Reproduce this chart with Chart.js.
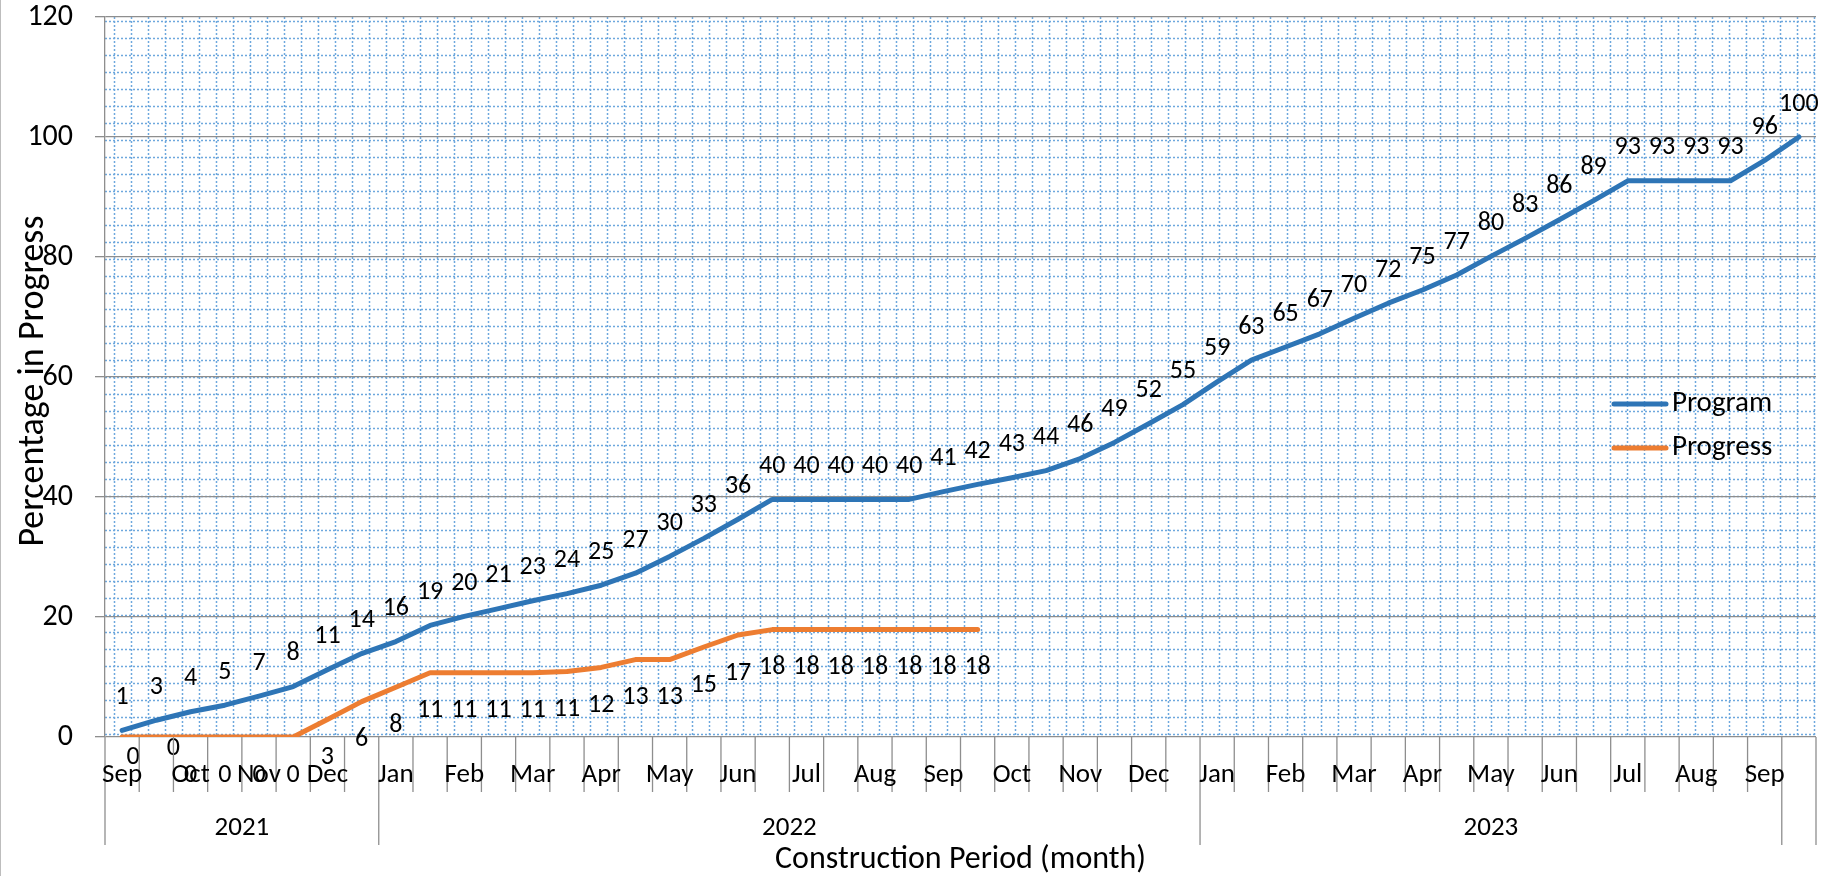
<!DOCTYPE html>
<html>
<head>
<meta charset="utf-8">
<script src="https://cdn.jsdelivr.net/npm/chart.js@4.4.1/dist/chart.umd.min.js"></script>
<style>
  html, body { margin: 0; padding: 0; background: #fff; }
  #wrap { width: 1830px; height: 876px; }
</style>
</head>
<body>
<div id="wrap"><canvas id="progressChart" width="1830" height="876"></canvas></div>
<script>
// two points per month, label only on the first one
const monthLabels = [
  'Sep', '', 'Oct', '', 'Nov', '', 'Dec', '',
  'Jan', '', 'Feb', '', 'Mar', '', 'Apr', '', 'May', '', 'Jun', '',
  'Jul', '', 'Aug', '', 'Sep', '', 'Oct', '', 'Nov', '', 'Dec', '',
  'Jan', '', 'Feb', '', 'Mar', '', 'Apr', '', 'May', '', 'Jun', '',
  'Jul', '', 'Aug', '', 'Sep', ''
];
const yearNames = ['2021', '2022', '2023'];
const yearSpans = [8, 24, 17];   // number of categories under each year

const programValues = [
  1.1, 2.8, 4.2, 5.3, 6.8, 8.4, 11.2, 13.9, 15.9, 18.6,
  20.1, 21.4, 22.7, 23.9, 25.3, 27.3, 30.1, 33.1, 36.3, 39.6,
  39.6, 39.6, 39.6, 39.6, 40.9, 42.1, 43.2, 44.4, 46.4, 49.1,
  52.2, 55.4, 59.2, 62.8, 65.0, 67.2, 69.8, 72.3, 74.5, 77.0,
  80.1, 83.1, 86.2, 89.4, 92.7, 92.7, 92.7, 92.7, 96.1, 100
];
const progressValues = [
  0, 0, 0, 0, 0, 0, 2.9, 5.9, 8.3, 10.7,
  10.7, 10.7, 10.7, 10.9, 11.6, 12.9, 12.9, 15.0, 17.0, 17.9,
  17.9, 17.9, 17.9, 17.9, 17.9, 17.9
];
const seriesNames = ['Program', 'Progress'];

const FONT = "Carlito, Lato, 'Liberation Sans', sans-serif";
const GRAY = '#8e8e8e';
const BLUE = '#2e75b6';
const ORANGE = '#ed7d31';

const excelLook = {
  id: 'excelLook',
  beforeDraw(chart) {
    // dotted "small grid" pattern fill of the plot area
    const ctx = chart.ctx;
    const a = chart.chartArea;
    ctx.save();
    ctx.beginPath();
    ctx.rect(a.left, a.top, a.right - a.left, a.bottom - a.top);
    ctx.clip();
    ctx.strokeStyle = '#6ea8dd';
    ctx.lineWidth = 1.5;
    ctx.setLineDash([2, 2]);
    for (let x = a.left + 8.5; x < a.right; x += 17.01) {
      ctx.beginPath();
      ctx.moveTo(Math.round(x) + 0.5, a.top);
      ctx.lineTo(Math.round(x) + 0.5, a.bottom);
      ctx.stroke();
    }
    for (let y = a.bottom - 3; y > a.top; y -= 16.98) {
      ctx.beginPath();
      ctx.moveTo(a.left, Math.round(y) + 0.5);
      ctx.lineTo(a.right, Math.round(y) + 0.5);
      ctx.stroke();
    }
    ctx.restore();
  },
  afterDatasetsDraw(chart) {
    const ctx = chart.ctx;
    ctx.save();
    ctx.fillStyle = '#000';
    ctx.font = `26px ${FONT}`;
    ctx.textAlign = 'center';
    ctx.textBaseline = 'middle';
    // data labels: program above, progress below
    chart.getDatasetMeta(0).data.forEach((pt, i) => {
      ctx.fillText(String(Math.round(programValues[i])), pt.x, pt.y - 33);
    });
    const nudge = { 0: [11, -18], 1: [17, -27] };  // labels moved by hand in the original
    chart.getDatasetMeta(1).data.forEach((pt, i) => {
      const d = nudge[i] || [0, 0];
      ctx.fillText(String(Math.round(progressValues[i])), pt.x + d[0], pt.y + 38 + d[1]);
    });
    ctx.restore();
  },
  afterDraw(chart) {
    const ctx = chart.ctx;
    const a = chart.chartArea;
    const xs = chart.scales.x;
    const n = monthLabels.length;
    const step = xs.getPixelForValue(1) - xs.getPixelForValue(0);
    const base = a.bottom;
    ctx.save();

    // frame line on the left of the chart
    ctx.strokeStyle = '#bdbdbd';
    ctx.lineWidth = 1;
    ctx.beginPath();
    ctx.moveTo(0.5, 0);
    ctx.lineTo(0.5, chart.height);
    ctx.stroke();

    // category separators, longer at year boundaries
    const edges = new Set([0, n]);
    let acc = 0;
    yearSpans.forEach(s => { acc += s; edges.add(acc); });
    ctx.strokeStyle = GRAY;
    ctx.lineWidth = 1.3;
    for (let i = 0; i <= n; i++) {
      const x = xs.getPixelForValue(0) - step / 2 + i * step;
      ctx.beginPath();
      ctx.moveTo(x, base);
      ctx.lineTo(x, base + (edges.has(i) ? 108 : 55));
      ctx.stroke();
    }

    ctx.fillStyle = '#000';
    ctx.textAlign = 'center';
    ctx.textBaseline = 'middle';
    ctx.font = `27px ${FONT}`;
    monthLabels.forEach((m, i) => {
      if (m) ctx.fillText(m, xs.getPixelForValue(i), base + 38);
    });
    let start = 0;
    yearNames.forEach((yr, k) => {
      const mid = (xs.getPixelForValue(start) + xs.getPixelForValue(start + yearSpans[k] - 1)) / 2;
      ctx.fillText(yr, mid, base + 91);
      start += yearSpans[k];
    });

    // axis titles
    ctx.font = `32px ${FONT}`;
    ctx.fillText('Construction Period (month)', (a.left + a.right) / 2, 860);
    ctx.save();
    ctx.translate(34, (a.top + a.bottom) / 2 + 4);
    ctx.rotate(-Math.PI / 2);
    ctx.font = `36px ${FONT}`;
    ctx.fillText('Percentage in Progress', 0, 0);
    ctx.restore();

    // legend inside the plot
    ctx.font = `29px ${FONT}`;
    ctx.textAlign = 'left';
    [[seriesNames[0], BLUE, 404], [seriesNames[1], ORANGE, 448]].forEach(([name, col, y]) => {
      ctx.strokeStyle = col;
      ctx.lineWidth = 5;
      ctx.lineCap = 'round';
      ctx.beginPath();
      ctx.moveTo(1614, y);
      ctx.lineTo(1666, y);
      ctx.stroke();
      ctx.fillText(name, 1672, y);
    });
    ctx.restore();
  }
};

new Chart(document.getElementById('progressChart'), {
  type: 'line',
  data: {
    labels: monthLabels,
    datasets: [
      {
        label: seriesNames[0],
        data: programValues,
        borderColor: BLUE,
        borderWidth: 5,
        pointRadius: 0,
        borderCapStyle: 'round',
        borderJoinStyle: 'round',
        tension: 0,
        fill: false,
        order: 1
      },
      {
        label: seriesNames[1],
        data: progressValues,
        borderColor: ORANGE,
        borderWidth: 5,
        pointRadius: 0,
        borderCapStyle: 'round',
        borderJoinStyle: 'round',
        tension: 0,
        fill: false,
        order: 0
      }
    ]
  },
  options: {
    responsive: false,
    animation: false,
    layout: { padding: { top: 17, right: 14, left: 0, bottom: 0 } },
    plugins: {
      legend: { display: false },
      tooltip: { enabled: false }
    },
    scales: {
      x: {
        type: 'category',
        offset: true,
        grid: { display: false },
        ticks: { display: false },
        border: { display: false },
        afterFit: s => { s.height = 139; s.paddingLeft = 0; s.paddingRight = 0; }
      },
      y: {
        min: 0,
        max: 120,
        ticks: {
          stepSize: 20,
          color: '#000',
          padding: 22,
          font: { family: FONT, size: 30 }
        },
        grid: { color: GRAY, lineWidth: 1.3, tickLength: 10, tickColor: GRAY },
        border: { color: GRAY, width: 1.3 },
        afterFit: s => { s.width = 105; s.paddingTop = 0; s.paddingBottom = 0; }
      }
    }
  },
  plugins: [excelLook]
});
</script>
</body>
</html>
